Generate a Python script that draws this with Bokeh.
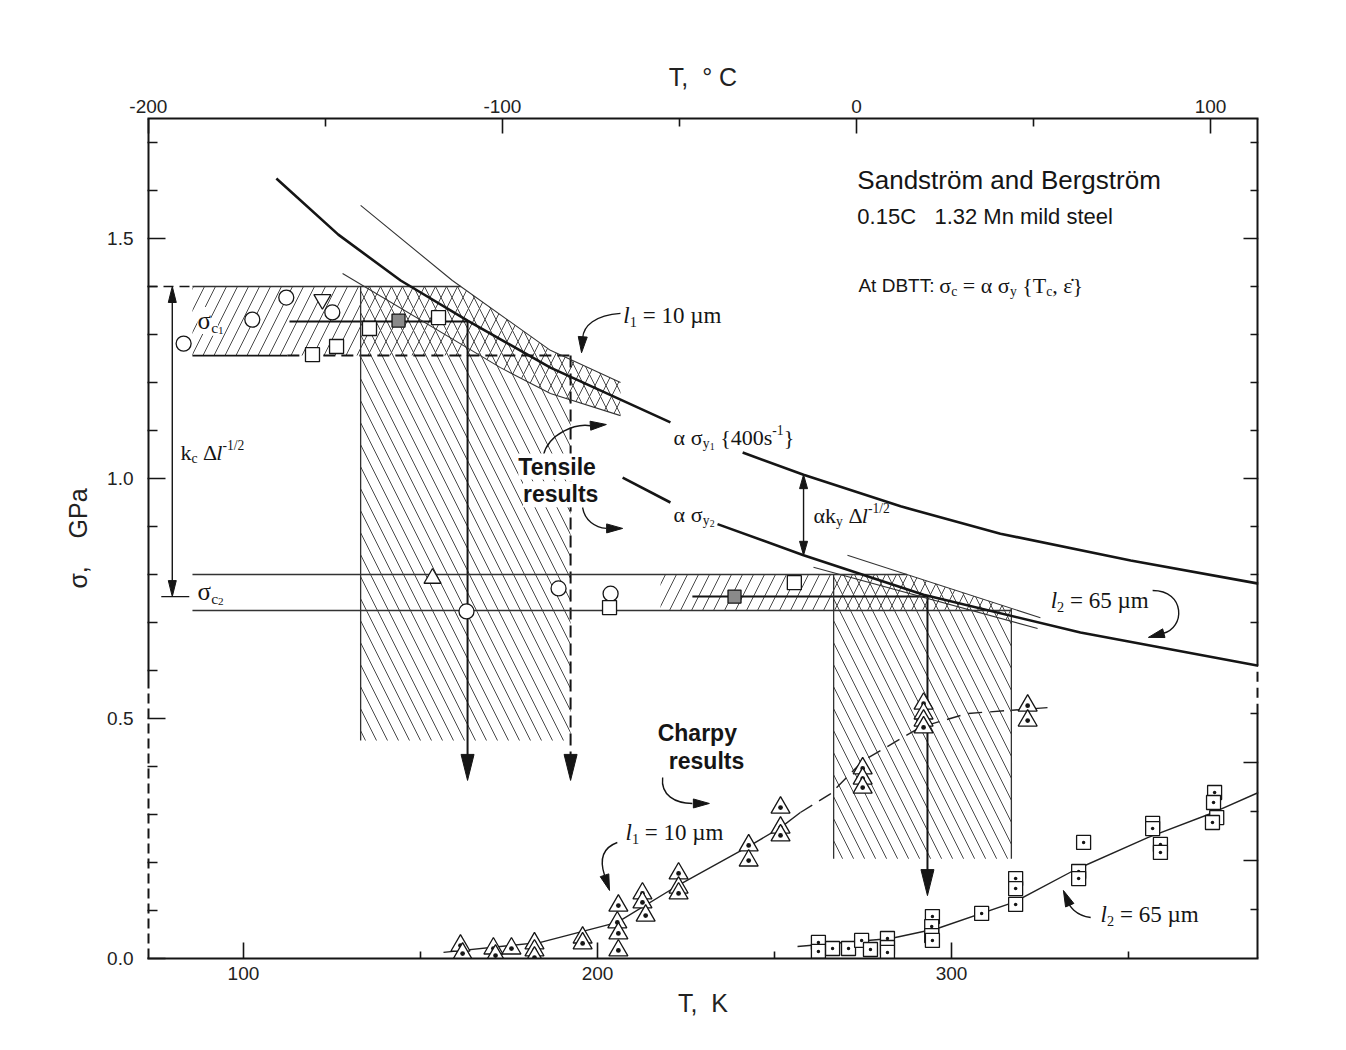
import math
import numpy as np
from bokeh.plotting import figure
from bokeh.models import Range1d, LinearAxis, FixedTicker, Label
from bokeh.embed import file_html
from bokeh.resources import INLINE

# ---------------- axes ----------------
T_MIN, T_MAX = 72.9, 386.7           # K
S_MIN, S_MAX = 0.0, 1.75             # GPa
J_PER_PX = 1.0 / 1.96                # CVN scale: 1.96 px per J
T_ticks = [100, 200, 300]
T_minor = [50, 150, 250, 350]
C_ticks = [-200, -100, 0, 100]
C_minor = [-150, -50, 50]
S_ticks = [0.0, 0.5, 1.0, 1.5]
S_minor = [0.1, 0.2, 0.3, 0.4, 0.6, 0.7, 0.8, 0.9, 1.1, 1.2, 1.3, 1.4, 1.6, 1.7]
J_ticks = [0, 50, 100]
J_minor = [25, 75, 125]
S_right_ticks = [0.7, 0.8, 0.9, 1.0, 1.1, 1.2, 1.3, 1.4, 1.5, 1.6, 1.7]

# ---------------- data ----------------
# alpha*sigma_y1 {400 s^-1}  (T K, GPa)
sy1_T = [109.3, 126.8, 144.4, 163.3, 186.7, 220.6, 241.0, 258.2, 285.6, 313.8, 350.6, 386.7]
sy1_S = [1.625, 1.508, 1.4125, 1.329, 1.231, 1.117, 1.054, 1.008, 0.942, 0.885, 0.829, 0.781]
sy1_break = 6
# alpha*sigma_y2
sy2_T = [207.1, 220.6, 233.9, 258.2, 292.1, 336.4, 386.7]
sy2_S = [1.002, 0.950, 0.905, 0.840, 0.758, 0.679, 0.610]
sy2_break = 2
# scatter bands of yield curve (l1 = 10 um and l2 = 65 um)
l1_up_T = [133.1, 159.0, 186.7, 206.5]
l1_up_S = [1.569, 1.4125, 1.267, 1.200]
l1_lo_T = [128.0, 172.6, 186.7, 206.5]
l1_lo_S = [1.427, 1.231, 1.177, 1.131]
l2_up_T = [270.6, 325.1]
l2_up_S = [0.840, 0.710]
l2_lo_T = [261.0, 324.3]
l2_lo_S = [0.815, 0.6875]

# cleavage stress bands
sc1_hi, sc1_lo, sc1_mean = 1.40, 1.256, 1.327
sc2_hi, sc2_lo, sc2_mean = 0.800, 0.725, 0.754
band_T0 = 85.6
l1_T_lo, l1_T_mid, l1_T_hi = 133.1, 163.3, 192.4
l2_T_lo, l2_T_mid, l2_T_hi = 266.7, 293.2, 316.9
l1_mean_T0, l2_mean_T0, l2_hatch_T0 = 113.0, 226.8, 217.8
l1_dash_T0 = 112.4
l1_bot, l2_bot = 0.454, 0.208
l1_tip, l2_tip = 0.371, 0.131
kc_T = 79.9

# tensile results (T K, GPa)
t1_circ_T = [83.1, 102.5, 112.1, 125.1]
t1_circ_S = [1.281, 1.331, 1.377, 1.346]
t1_itri_T = [122.3]
t1_itri_S = [1.373]
t1_sq_T = [119.5, 126.3, 135.6, 155.1]
t1_sq_S = [1.258, 1.275, 1.3125, 1.335]
t1_shade_T = [143.8]
t1_shade_S = [1.329]
t2_tri_T = [153.4]
t2_tri_S = [0.792]
t2_circ_T = [163.0, 189.0, 203.7]
t2_circ_S = [0.723, 0.771, 0.760]
t2_sq_T = [203.4, 255.6]
t2_sq_S = [0.731, 0.783]
t2_shade_T = [238.7]
t2_shade_S = [0.754]

# Charpy results (T K, CVN J)
cvn1_T = [161.3, 161.9, 170.6, 171.2, 175.7, 182.2, 182.2, 182.2, 195.8, 195.8,
          205.9, 205.6, 205.9, 205.9, 212.7, 212.7, 213.6, 222.9, 222.9, 222.9,
          242.7, 242.7, 251.7, 251.7, 251.7, 274.9, 274.9, 274.9,
          292.1, 292.1, 292.1, 292.1, 321.5, 321.5]
cvn1_J = [6.6, 2.5, 5.1, 1.5, 5.1, 7.7, 4.1, 0.5, 10.7, 7.7,
          27.0, 18.4, 12.8, 4.1, 33.2, 28.6, 21.9, 43.4, 36.2, 33.2,
          57.7, 50.0, 77.0, 66.8, 62.8, 97.0, 91.8, 87.2,
          130.0, 125.0, 121.4, 117.9, 129.0, 121.4]
cvn2_T = [262.4, 262.4, 266.4, 270.9, 274.6, 277.1, 281.9, 281.9, 281.9,
          294.6, 294.4, 294.4, 294.6, 308.5, 318.1, 318.1, 318.1,
          337.3, 335.9, 335.9, 356.8, 356.8, 359.0, 359.0,
          374.3, 374.0, 374.9, 373.7]
cvn2_J = [8.2, 3.6, 5.1, 5.1, 9.2, 4.6, 10.2, 5.6, 3.1,
          21.4, 16.3, 11.7, 9.2, 23.0, 40.8, 35.7, 27.6,
          59.2, 44.4, 40.8, 68.9, 66.3, 58.2, 54.1,
          84.7, 79.6, 71.9, 69.4]
c1_solid_T = [156.5, 183.9, 205.6, 223.4, 243.2, 251.7, 257.3]
c1_solid_J = [3.1, 8.2, 18.4, 38.0, 57.7, 66.8, 74.5]
c1_dash_T = [257.3, 265.8, 275.1, 291.2, 304.5, 327.1]
c1_dash_J = [74.5, 84.0, 101.0, 118.0, 125.0, 128.0]
c2_T = [256.5, 282.8, 296.0, 317.5, 334.5, 355.4, 374.0, 386.7]
c2_J = [6.1, 10.2, 15.3, 28.6, 44.9, 61.7, 74.5, 84.7]

# ---------------- figure ----------------
W, H = 1344, 1048
BL, BR, BT, BB = 147, 86, 118, 90
PXK = (W - BL - BR) / (T_MAX - T_MIN)
PXS = (H - BT - BB) / (S_MAX - S_MIN)
J_MAX = (H - BT - BB) * J_PER_PX

SANS = "Liberation Sans"
SERIF = "Liberation Serif"
INK = "#151515"
NB = "\u00a0"

p = figure(width=W, height=H, x_range=Range1d(T_MIN, T_MAX), y_range=Range1d(S_MIN, S_MAX),
           output_backend="svg", toolbar_location=None,
           min_border_left=BL, min_border_right=BR, min_border_top=BT, min_border_bottom=BB)
p.outline_line_color = None
p.xgrid.visible = False
p.ygrid.visible = False
p.background_fill_color = "white"
p.border_fill_color = "white"
p.extra_x_ranges = {"C": Range1d(T_MIN - 273.15, T_MAX - 273.15)}
p.extra_y_ranges = {"cvn": Range1d(0, J_MAX)}


def style_axis(ax, tin, mtin):
    ax.major_tick_in = tin
    ax.major_tick_out = 0
    ax.minor_tick_in = mtin
    ax.minor_tick_out = 0
    ax.major_tick_line_color = INK
    ax.minor_tick_line_color = INK
    ax.major_tick_line_width = 1.6
    ax.minor_tick_line_width = 1.6
    ax.major_label_text_font = SANS
    ax.major_label_text_font_size = "19px"
    ax.major_label_text_color = "#222"
    ax.axis_label_text_font = SANS
    ax.axis_label_text_font_size = "25px"
    ax.axis_label_text_font_style = "normal"
    ax.axis_label_text_color = "#222"


xb = p.xaxis[0]
xb.ticker = FixedTicker(ticks=T_ticks, minor_ticks=T_minor)
style_axis(xb, 16, 7)
xb.axis_line_width = 2
xb.axis_line_color = INK
xb.axis_label = "T," + NB * 2 + "K"
xb.major_label_standoff = 8
xb.axis_label_standoff = 6

yl = p.yaxis[0]
yl.ticker = FixedTicker(ticks=S_ticks, minor_ticks=S_minor)
yl.major_label_overrides = {0.0: "0.0", 0.5: "0.5", 1.0: "1.0", 1.5: "1.5"}
style_axis(yl, 18, 10)
yl.axis_line_color = None
yl.axis_label = "\u03c3," + NB * 4 + "GPa"
yl.major_label_standoff = 14
yl.axis_label_standoff = 12

xt = LinearAxis(x_range_name="C", ticker=FixedTicker(ticks=C_ticks, minor_ticks=C_minor))
style_axis(xt, 15, 8)
xt.axis_line_width = 2
xt.axis_line_color = INK
xt.axis_label = "T," + NB * 2 + "\u00b0" + NB + "C"
xt.major_label_overrides = {-200: "-200", -100: "-100", 0: "0", 100: "100"}
xt.major_label_standoff = 6
xt.axis_label_standoff = 6
p.add_layout(xt, "above")

# right CVN scale: ticks drawn inward, labels as annotations
rj_val = J_minor + J_ticks[1:]
rj_len = [15 if v in J_ticks else 8 for v in rj_val]
p.segment(x0=[T_MAX - L / PXK for L in rj_len], y0=rj_val, x1=[T_MAX] * len(rj_val), y1=rj_val,
          y_range_name="cvn", line_width=1.6, line_color=INK)
for jv in J_ticks:
    p.add_layout(Label(x=T_MAX + 42 / PXK, y=jv, y_range_name="cvn", text=str(jv),
                       text_font=SANS, text_font_size="19px", text_color="#222",
                       text_align="right", text_baseline="middle"))
p.add_layout(Label(x=T_MAX + 68 / PXK, y=0.183, text="CVN," + NB * 3 + "J", angle=math.pi / 2,
                   text_font=SANS, text_font_size="24px", text_color="#222",
                   text_align="center", text_baseline="middle"))

# ---- spines (left & right partially dashed) ----
left_dash_to, right_solid_to, right_dash_to = 0.58, 0.51, 0.61
p.segment(x0=[T_MIN], y0=[left_dash_to], x1=[T_MIN], y1=[S_MAX], line_width=4, line_color=INK)
p.segment(x0=[T_MIN], y0=[S_MIN], x1=[T_MIN], y1=[left_dash_to], line_width=4, line_color=INK, line_dash="10 5")
p.segment(x0=[T_MAX, T_MAX], y0=[S_MIN, right_dash_to], x1=[T_MAX, T_MAX], y1=[right_solid_to, S_MAX],
          line_width=4, line_color=INK)
p.segment(x0=[T_MAX], y0=[right_solid_to], x1=[T_MAX], y1=[right_dash_to], line_width=4,
          line_color=INK, line_dash="10 6")
rt_len = [15 if v in (1.0, 1.5) else 8 for v in S_right_ticks]
p.segment(x0=[T_MAX - L / PXK for L in rt_len], y0=S_right_ticks, x1=[T_MAX] * len(S_right_ticks),
          y1=S_right_ticks, line_width=1.6, line_color=INK)


# ---------------- hatched regions ----------------
def at(Ts, Ss, t):
    return float(np.interp(t, Ts, Ss))


def cross(Ts, Ss, level):
    return float(np.interp(-level, [-s for s in Ss], Ts))


Tc_up = cross(l1_up_T, l1_up_S, sc1_hi)
Tc_lo = cross(l1_lo_T, l1_lo_S, sc1_lo)
up_part = [(Tc_up, sc1_hi)] + [(t, s) for t, s in zip(l1_up_T, l1_up_S) if t > Tc_up]
lo_part = [(t, s) for t, s in zip(l1_lo_T, l1_lo_S) if t > Tc_lo][::-1]
poly_a = [(band_T0, sc1_lo), (band_T0, sc1_hi)] + up_part + lo_part + [(Tc_lo, sc1_lo)]
lo_right = [(t, s) for t, s in zip(l1_lo_T, l1_lo_S) if t > l1_T_hi][::-1]
poly_b = ([(l1_T_lo, l1_bot), (l1_T_lo, sc1_hi)] + up_part + lo_right +
          [(l1_T_hi, at(l1_lo_T, l1_lo_S, l1_T_hi)), (l1_T_hi, l1_bot)])

Tc2 = cross(l2_up_T, l2_up_S, sc2_hi)
Tc2_lo = cross(l2_lo_T, l2_lo_S, sc2_lo)
u2 = at(l2_up_T, l2_up_S, l2_T_hi)
d2 = at(l2_lo_T, l2_lo_S, l2_T_hi)
poly_c = [(l2_hatch_T0, sc2_lo), (l2_hatch_T0, sc2_hi), (Tc2, sc2_hi), (l2_T_hi, u2), (l2_T_hi, d2), (Tc2_lo, sc2_lo)]
poly_d = [(l2_T_lo, l2_bot), (l2_T_lo, sc2_hi), (Tc2, sc2_hi), (l2_T_hi, u2), (l2_T_hi, l2_bot)]

HATCH = "#4a4a4a"
for poly, pat in ((poly_a, "/"), (poly_c, "/"), (poly_b, "\\"), (poly_d, "\\")):
    p.patch([a for a, b in poly], [b for a, b in poly], fill_color=None, line_color=None,
            hatch_pattern=pat, hatch_scale=22, hatch_weight=1.0, hatch_color=HATCH)

# ---------------- construction lines ----------------
THIN = "#333333"
p.line([band_T0, Tc_up], [sc1_hi, sc1_hi], line_color=THIN, line_width=1.3)
p.line([T_MIN, band_T0], [sc1_hi, sc1_hi], line_color=INK, line_width=1.5, line_dash="10 6")
p.line([band_T0, l1_dash_T0], [sc1_lo, sc1_lo], line_color=INK, line_width=1.8)
p.line([l1_dash_T0, l1_T_hi], [sc1_lo, sc1_lo], line_color=INK, line_width=2, line_dash="12 6")
p.line([l1_mean_T0, l1_T_mid], [sc1_mean, sc1_mean], line_color=INK, line_width=2)
p.line([l1_T_lo, l1_T_lo], [l1_bot, sc1_hi], line_color=THIN, line_width=1.3)
p.line([l1_T_mid, l1_T_mid], [sc1_mean, l1_tip + 0.03], line_color=INK, line_width=2)
p.line([l1_T_hi, l1_T_hi], [sc1_lo, l1_tip + 0.03], line_color=INK, line_width=2, line_dash="12 6")
p.line([band_T0, Tc2], [sc2_hi, sc2_hi], line_color=THIN, line_width=1.3)
p.line([band_T0, l2_T_hi], [sc2_lo, sc2_lo], line_color=THIN, line_width=1.3)
p.line([l2_mean_T0, l2_T_mid], [sc2_mean, sc2_mean], line_color=INK, line_width=2)
p.line([l2_T_lo, l2_T_lo], [l2_bot, sc2_hi], line_color=THIN, line_width=1.3)
p.line([l2_T_hi, l2_T_hi], [l2_bot, u2], line_color=THIN, line_width=1.3)
p.line([l2_T_mid, l2_T_mid], [sc2_mean, l2_tip + 0.03], line_color=INK, line_width=2)
p.line([kc_T, kc_T], [sc1_hi - 0.02, sc2_mean + 0.02], line_color=INK, line_width=1.4)
p.line([kc_T - 11 / PXK, kc_T + 17 / PXK], [sc2_mean, sc2_mean], line_color=INK, line_width=1.4)
p.line(l1_up_T, l1_up_S, line_color=THIN, line_width=1.1)
p.line(l1_lo_T, l1_lo_S, line_color=THIN, line_width=1.1)
p.line(l2_up_T, l2_up_S, line_color=THIN, line_width=1.1)
p.line(l2_lo_T, l2_lo_S, line_color=THIN, line_width=1.1)
p.line(sy1_T[:sy1_break], sy1_S[:sy1_break], line_color=INK, line_width=2.6)
p.line(sy1_T[sy1_break:], sy1_S[sy1_break:], line_color=INK, line_width=2.6)
p.line(sy2_T[:sy2_break], sy2_S[:sy2_break], line_color=INK, line_width=2.6)
p.line(sy2_T[sy2_break:], sy2_S[sy2_break:], line_color=INK, line_width=2.6)
aky_T = 258.2
aky_hi = at(sy1_T, sy1_S, aky_T)
aky_lo = at(sy2_T, sy2_S, aky_T)
p.line([aky_T, aky_T], [aky_hi - 0.01, aky_lo + 0.01], line_color=INK, line_width=1.4)

p.line(c1_solid_T, c1_solid_J, y_range_name="cvn", line_color="#222", line_width=1.4)
p.line(c1_dash_T, c1_dash_J, y_range_name="cvn", line_color="#222", line_width=1.4, line_dash="14 8")
p.line(c2_T, c2_J, y_range_name="cvn", line_color="#222", line_width=1.4)

# ---------------- curved annotation arrows ----------------
curves = [
    ((206.5, 1.344), (199.4, 1.340), (196.0, 1.319), (195.8, 1.292), (195.5, 1.262)),
    ((184.7, 1.048), (186.2, 1.094), (193.8, 1.115), (198.0, 1.110), (202.5, 1.1125)),
    ((195.8, 0.940), (196.3, 0.9125), (199.4, 0.898), (202.5, 0.896), (207.1, 0.896)),
    ((218.4, 0.377), (217.8, 0.340), (222.0, 0.323), (226.8, 0.323), (231.6, 0.323)),
    ((205.6, 0.2417), (200.8, 0.229), (200.8, 0.200), (202.0, 0.173), (203.4, 0.1417)),
    ((339.3, 0.0854), (335.0, 0.0896), (333.1, 0.110), (332.8, 0.121), (331.6, 0.1417)),
    ((356.8, 0.7667), (366.1, 0.7667), (366.1, 0.6875), (359.6, 0.677), (355.6, 0.669)),
]
p.bezier(x0=[c[0][0] for c in curves], y0=[c[0][1] for c in curves],
         x1=[c[3][0] for c in curves], y1=[c[3][1] for c in curves],
         cx0=[c[1][0] for c in curves], cy0=[c[1][1] for c in curves],
         cx1=[c[2][0] for c in curves], cy1=[c[2][1] for c in curves],
         line_color=INK, line_width=1.4)


def head(tipT, tipS, dx, dy, L, Wd):
    n = math.hypot(dx, dy)
    ux, uy = dx / n, dy / n
    bx, by = -ux * L, -uy * L
    qx, qy = -uy, ux
    pts = [(0, 0), (bx + qx * Wd / 2, by + qy * Wd / 2), (bx - qx * Wd / 2, by - qy * Wd / 2)]
    return [tipT + a / PXK for a, b in pts], [tipS - b / PXS for a, b in pts]


heads = [
    (l1_T_mid, l1_tip, 0, 1, 26, 13),
    (l1_T_hi, l1_tip, 0, 1, 26, 13),
    (l2_T_mid, l2_tip, 0, 1, 26, 13),
    (kc_T, sc1_hi, 0, -1, 16, 8),
    (kc_T, sc2_mean, 0, 1, 16, 8),
    (aky_T, aky_hi, 0, -1, 14, 8),
    (aky_T, aky_lo, 0, 1, 14, 8),
]
for c in curves:
    (eT, eS), (tT, tS) = c[3], c[4]
    heads.append((tT, tS, (tT - eT) * PXK, -(tS - eS) * PXS, 16, 9))
hx, hy = [], []
for h in heads:
    a, b = head(*h)
    hx.append(a)
    hy.append(b)
p.patches(hx, hy, fill_color=INK, line_color=INK, line_width=1)

# ---------------- markers ----------------
mk = dict(fill_color="white", line_color=INK, line_width=1.3)
p.scatter(t1_circ_T, t1_circ_S, marker="circle", size=15, **mk)
p.scatter(t2_circ_T, t2_circ_S, marker="circle", size=15, **mk)
p.scatter(t1_itri_T, t1_itri_S, marker="inverted_triangle", size=17, **mk)
p.scatter(t2_tri_T, t2_tri_S, marker="triangle", size=17, **mk)
p.scatter(t1_sq_T, t1_sq_S, marker="square", size=14, **mk)
p.scatter(t2_sq_T, t2_sq_S, marker="square", size=14, **mk)
p.scatter(t1_shade_T + t2_shade_T, t1_shade_S + t2_shade_S, marker="square", size=13,
          fill_color="#8a8a8a", line_color=INK, line_width=1.3)
p.scatter(cvn1_T, cvn1_J, y_range_name="cvn", marker="triangle_dot", size=19, **mk)
p.scatter(cvn2_T, cvn2_J, y_range_name="cvn", marker="square_dot", size=14, **mk)

# ---------------- text ----------------
CW = {NB: .25, ' ': .25, 'α': .53, 'σ': .55, 'Δ': .61, 'µ': .5, 'm': .78, 'l': .28, 'k': .5, 'y': .5,
      'c': .44, 's': .39, '{': .48, '}': .48, '=': .564, '-': .333, '/': .278, 'T': .61,
      ',': .25, 'ε': .44, '\u0307': 0.0}


def tw(s, fs):
    return sum(CW.get(ch, 0.5) for ch in s) * fs


def rich(x, y, segs, size=22, font=SERIF, color=INK, bg=None):
    off = 0.0
    for seg in segs:
        text, kind = seg[0].replace(" ", NB), seg[1]
        italic = len(seg) > 2 and seg[2]
        if kind == "n":
            fs, dy = size, 0.0
        elif kind == "sub":
            fs, dy = size * 0.62, -size * 0.27
        elif kind == "ss":
            fs, dy = size * 0.45, -size * 0.40
        else:
            fs, dy = size * 0.62, size * 0.33
        p.add_layout(Label(x=x, y=y, x_offset=off, y_offset=dy, text=text, text_font=font,
                           text_font_size=f"{fs:.1f}px", text_color=color,
                           text_font_style="italic" if italic else "normal",
                           text_align="left", text_baseline="middle",
                           background_fill_color=bg))
        off += tw(text, fs)


def plain(x, y, text, size, font=SANS, style="normal", align="left", bg=None):
    p.add_layout(Label(x=x, y=y, text=text.replace(" ", NB), text_font=font, text_font_size=f"{size}px",
                       text_font_style=style, text_color=INK, text_align=align,
                       text_baseline="middle", background_fill_color=bg))


plain(273.4, 1.621, "Sandstr\u00f6m and Bergstr\u00f6m", 26)
plain(273.4, 1.546, "0.15C   1.32 Mn mild steel", 22)
plain(273.7, 1.402, "At DBTT:", 19)
rich(296.5, 1.402, [("σ", "n"), ("c", "sub"), (" = α σ", "n"), ("y", "sub"), (" {T", "n"),
                    ("c", "sub"), (", ε\u0307}", "n")], size=22)
rich(207.3, 1.340, [("l", "n", True), ("1", "sub"), (" = 10 µm", "n")], size=23)
rich(221.5, 1.085, [("α σ", "n"), ("y", "sub"), ("1", "ss"), (" {400s", "n"), ("-1", "sup"), ("}", "n")], size=22)
rich(221.5, 0.925, [("α σ", "n"), ("y", "sub"), ("2", "ss")], size=22)
rich(261.0, 0.923, [("αk", "n"), ("y", "sub"), (" Δ", "n"), ("l", "n", True), ("-1/2", "sup")], size=22)
rich(82.2, 1.054, [("k", "n"), ("c", "sub"), (" Δ", "n"), ("l", "n", True), ("-1/2", "sup")], size=22)
rich(87.0, 1.329, [("σ", "n"), ("c", "sub"), ("1", "ss")], size=25, bg="white")
rich(87.0, 0.765, [("σ", "n"), ("c", "sub"), ("2", "ss")], size=25)
rich(207.9, 0.2625, [("l", "n", True), ("1", "sub"), (" = 10 µm", "n")], size=23)
rich(342.1, 0.0917, [("l", "n", True), ("2", "sub"), (" = 65 µm", "n")], size=23)
rich(328.0, 0.746, [("l", "n", True), ("2", "sub"), (" = 65 µm", "n")], size=23)
plain(188.6, 1.025, "Tensile", 23, style="bold", align="center", bg="white")
plain(189.6, 0.967, "results", 23, style="bold", align="center", bg="white")
plain(228.2, 0.469, "Charpy", 23, style="bold", align="center")
plain(230.8, 0.4125, "results", 23, style="bold", align="center")

open("out.html", "w").write(file_html(p, INLINE))
